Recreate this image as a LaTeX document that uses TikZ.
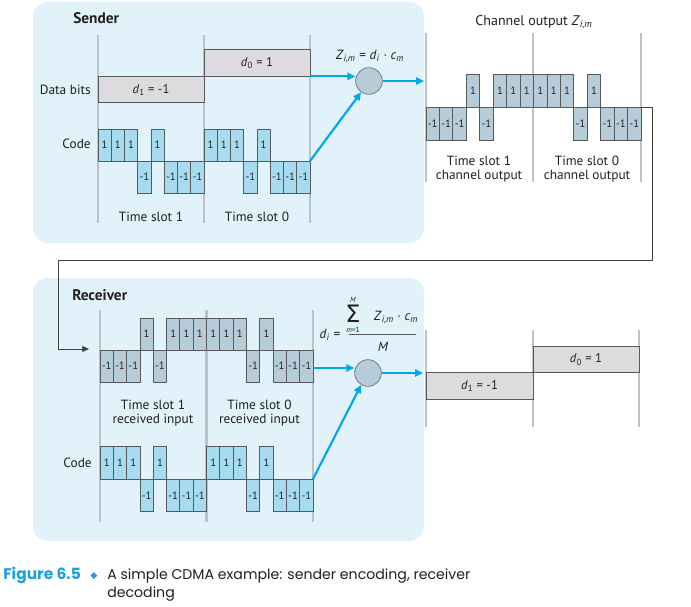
\documentclass[tikz,border=0pt]{standalone}
\usepackage{fontspec}
\setmainfont{PT Sans}
\newfontfamily\capfont{Poppins}
\newfontfamily\symfont{DejaVu Sans}
\usetikzlibrary{arrows.meta,calc}
\definecolor{panelc}{HTML}{E1F2FB}
\definecolor{chipc}{HTML}{A6DBF0}
\definecolor{chanc}{HTML}{B6CCD8}
\definecolor{boxc}{HTML}{DCDCDE}
\definecolor{edgec}{HTML}{58595B}
\definecolor{vlinec}{HTML}{B9C3C8}
\definecolor{arrc}{HTML}{00A8E6}
\definecolor{capc}{HTML}{1EA0DC}
\definecolor{txtc}{HTML}{231F20}
\newcommand\mysub[1]{\textsubscript{#1}}
\newcommand\chipseq[7]{%
  \foreach \v [count=\i from 0] in {#6} {
    \pgfmathsetmacro\xa{#1+\i*#3}
    \pgfmathsetmacro\xb{#1+(\i+1)*#3}
    \pgfmathsetmacro\yt{#2-\v*#4}
    \draw[#5] (\xa,#2) rectangle (\xb,\yt);
    \node[chiptxt] (#7\i) at ({(\xa+\xb)/2},{(#2+\yt)/2}) {\ifnum\v<0 -1\else 1\fi};
  }%
}
\begin{document}
\begin{tikzpicture}[x=0.75pt,y=-0.75pt,
  every node/.style={text=txtc},
  lbl/.style={font=\fontsize{10}{10.5}\selectfont, inner sep=0pt, align=center},
  ttl/.style={font=\fontsize{11.5}{13}\selectfont\bfseries, inner sep=0pt, anchor=west},
  chiptxt/.style={font=\fontsize{8}{9}\selectfont, inner sep=0pt},
  chipa/.style={draw=edgec, fill=chipc, line width=0.6pt},
  chipb/.style={draw=edgec, fill=chanc, line width=0.6pt},
  dbox/.style={draw=edgec, fill=boxc, line width=0.6pt, inner sep=0pt, outer sep=0pt,
    minimum height=19.9pt, font=\fontsize{9.5}{11}\selectfont},
  vline/.style={draw=vlinec, line width=1.6pt},
  mixer/.style={circle, draw=edgec!80, fill=chanc, line width=0.6pt, minimum size=20pt, inner sep=0pt},
  barr/.style={draw=arrc, line width=1.6pt, -{Triangle[length=6pt,width=5.5pt]}},
  conn/.style={draw=txtc!85, line width=0.6pt, -{Triangle[length=5pt,width=4.5pt]}},
]
\useasboundingbox (0,0) rectangle (691,606);

% panels
\fill[panelc, rounded corners=11pt] (33,2) rectangle (424,243);
\fill[panelc, rounded corners=11pt] (33,278) rectangle (424,541);

% ---------------- Sender ----------------
\node[ttl] (sender) at (73,18) {Sender};
\foreach \x in {98,204,310} \draw[vline] (\x,35) -- (\x,223);
\node[lbl, anchor=east] (databits) at (91,90) {Data bits};
\node[dbox, minimum width=79.5pt] (d1s) at (151,89.6) {\textit{d}\mysub{1} = -1};
\node[dbox, minimum width=79.5pt] (d0s) at (257,63.1) {\textit{d}\mysub{0} = 1};
\node[lbl, anchor=east] (codes) at (91,144) {Code};
\chipseq{98}{161}{13.25}{32}{chipa}{1,1,1,-1,1,-1,-1,-1,1,1,1,-1,1,-1,-1,-1}{sc-}
\node[lbl] (ts1s) at (151,217) {Time slot 1};
\node[lbl] (ts0s) at (257,217) {Time slot 0};
\coordinate (scend) at (310,161);

\node[mixer] (sc) at (369,81) {};
\node[lbl] (zeq) at (370,57) {\textit{Z}\mysub{\textit{i,m}} = \textit{d}\mysub{\textit{i}} · \textit{c}\mysub{\textit{m}}};
\coordinate (chin) at (424,81);
\draw[barr] (d0s.south east) -- (d0s.south east -| sc.west);
\draw[barr] (scend) -- (sc.235);
\draw[barr] (sc.east) -- (chin);

% ---------------- Channel ----------------
\node[lbl, font=\fontsize{10.5}{12}\selectfont] (chtitle) at (534,22) {Channel output \textit{Z}\mysub{\textit{i,m}}};
\foreach \x in {426,533,641} \draw[vline] (\x,33) -- (\x,182);
\chipseq{426}{107}{13.4375}{33}{chipb}{-1,-1,-1,1,-1,1,1,1,1,1,1,-1,1,-1,-1,-1}{ch-}
\coordinate (chend) at (641,107);
\node[lbl] (ts1c) at (479,169) {Time slot 1\\channel output};
\node[lbl] (ts0c) at (587,169) {Time slot 0\\channel output};

% connector channel -> receiver
\coordinate (k1) at (652,260);
\coordinate (k2) at (58,260);
\coordinate (rinarr) at (89,349);
\draw[conn] (chend) -| (k1) -- (k2) |- (rinarr);

% ---------------- Receiver ----------------
\node[ttl] (receiver) at (72,295) {Receiver};
\foreach \x in {100,206.5,313} \draw[vline] (\x,310) -- (\x,522);
\chipseq{100}{350}{13.3125}{32}{chipb}{-1,-1,-1,1,-1,1,1,1,1,1,1,-1,1,-1,-1,-1}{ri-}
\node[lbl] (ts1r) at (153,413.5) {Time slot 1\\received input};
\node[lbl] (ts0r) at (259.5,413.5) {Time slot 0\\received input};
\node[lbl, anchor=east] (coder) at (92,463) {Code};
\chipseq{100}{479}{13.3125}{32.5}{chipa}{1,1,1,-1,1,-1,-1,-1,1,1,1,-1,1,-1,-1,-1}{rc-}
\coordinate (riout) at (313,368);
\coordinate (rcend) at (313,479);

\node[mixer] (rc) at (368,373) {};
\coordinate (rcout) at (423,373);
\draw[barr] (riout) -- (riout -| rc.west);
\draw[barr] (rcend) -- (rc.240);
\draw[barr] (rc.east) -- (rcout);

% formula
\node[lbl] (dilhs) at (330,335) {\textit{d}\mysub{\textit{i}} =};
\node[inner sep=0pt, text depth=0pt, anchor=base, font=\symfont\fontsize{18}{18}\selectfont] (sig) at (353,322) {Σ};
\node[inner sep=0pt, font=\fontsize{5.5}{6}\selectfont] (supm) at (353,300) {\textit{M}};
\node[inner sep=0pt, font=\fontsize{5.5}{6}\selectfont] (subm) at (353,330) {\textit{m}=1};
\node[lbl] (numz) at (396,318) {\textit{Z}\mysub{\textit{i,m}} · \textit{c}\mysub{\textit{m}}};
\draw[draw=edgec, line width=0.6pt] (349,334) -- (416,334);
\node[lbl] (denm) at (383,346.5) {\textit{M}};

% decoded output
\foreach \x in {426,533,639} \draw[vline] (\x,330) -- (\x,427);
\node[dbox, minimum width=80.25pt] (d1r) at (479.5,386) {\textit{d}\mysub{1} = -1};
\node[dbox, minimum width=79.5pt] (d0r) at (586,359.5) {\textit{d}\mysub{0} = 1};

% caption
\node[anchor=base west, inner sep=0pt, font=\capfont\bfseries\fontsize{11.6}{13.5}\selectfont, text=capc] (fig) at (3,579) {Figure 6.5};
\node[anchor=base, inner sep=0pt, font=\symfont\fontsize{7}{8}\selectfont, text=capc] (dia) at (94,578) {◆};
\node[anchor=base west, inner sep=0pt, align=left, font=\capfont\fontsize{10.6}{13.5}\selectfont] (captxt) at (107,597) {A simple CDMA example: sender encoding, receiver\\decoding};
\end{tikzpicture}
\end{document}
